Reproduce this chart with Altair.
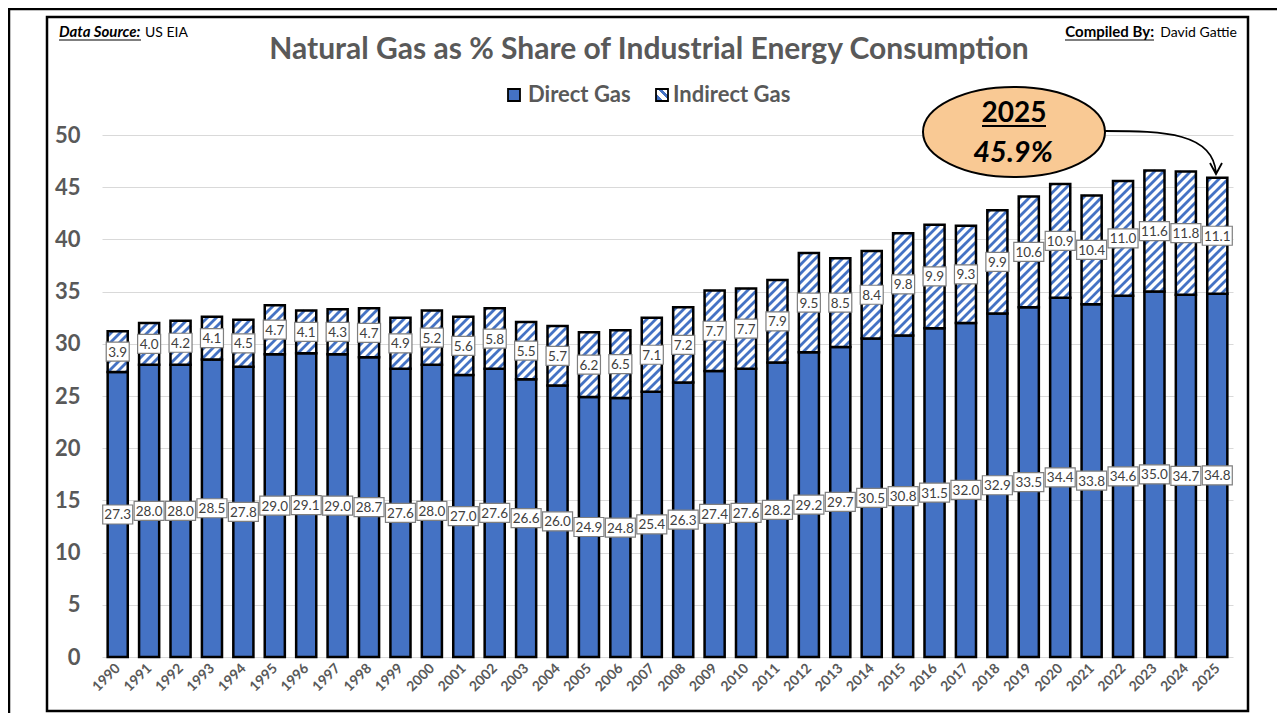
import altair as alt
import pandas as pd
import numpy as np

# ---------------- data ----------------
years = list(range(1990, 2026))
direct = [27.3, 28.0, 28.0, 28.5, 27.8, 29.0, 29.1, 29.0, 28.7, 27.6,
          28.0, 27.0, 27.6, 26.6, 26.0, 24.9, 24.8, 25.4, 26.3, 27.4,
          27.6, 28.2, 29.2, 29.7, 30.5, 30.8, 31.5, 32.0, 32.9, 33.5,
          34.4, 33.8, 34.6, 35.0, 34.7, 34.8]
indirect = [3.9, 4.0, 4.2, 4.1, 4.5, 4.7, 4.1, 4.3, 4.7, 4.9,
            5.2, 5.6, 5.8, 5.5, 5.7, 6.2, 6.5, 7.1, 7.2, 7.7,
            7.7, 7.9, 9.5, 8.5, 8.4, 9.8, 9.9, 9.3, 9.9, 10.6,
            10.9, 10.4, 11.0, 11.6, 11.8, 11.1]
y_ticks = [0, 5, 10, 15, 20, 25, 30, 35, 40, 45, 50]
series_names = ["Direct Gas", "Indirect Gas"]
title_text = "Natural Gas as % Share of Industrial Energy Consumption"
callout_year = str(years[-1])
callout_value = f"{direct[-1] + indirect[-1]:.1f}%"

# ---------------- geometry / style ----------------
PLOT_W, PLOT_H = 1131, 522
XDOM = [1989.5, 2025.5]
YDOM = [0, 50]
BAR_HALF = 0.32
BLUE = "#4472C4"
GRAY = "#595959"
FONT = "Lato"
STRIPE_P = 9.0
STRIPE_W = 2.8

KX = PLOT_W / (XDOM[1] - XDOM[0])
KY = PLOT_H / (YDOM[1] - YDOM[0])

df = pd.DataFrame({"year": years, "direct": direct, "indirect": indirect})
df["x0"] = df["year"] - BAR_HALF
df["x1"] = df["year"] + BAR_HALF
df["zero"] = 0.0
df["total"] = df["direct"] + df["indirect"]
df["dmid"] = df["direct"] / 2
df["imid"] = df["direct"] + df["indirect"] / 2
df["dlab"] = df["direct"].map(lambda v: f"{v:.1f}")
df["ilab"] = df["indirect"].map(lambda v: f"{v:.1f}")
df["dw"] = df["dlab"].map(lambda s: "s" if len(s) <= 3 else "l")
df["iw"] = df["ilab"].map(lambda s: "s" if len(s) <= 3 else "l")

# hatch stripes clipped to each indirect segment (pixel space -> data space)
rows = []
for yr, d, ind in zip(years, direct, indirect):
    x0 = (yr - BAR_HALF - XDOM[0]) * KX
    x1 = (yr + BAR_HALF - XDOM[0]) * KX
    yb = d * KY
    yt = (d + ind) * KY
    kmin = int(np.floor((yb - x1) / STRIPE_P)) - 1
    kmax = int(np.ceil((yt - x0) / STRIPE_P)) + 1
    for k in range(kmin, kmax + 1):
        c = k * STRIPE_P
        lo = max(x0, yb - c)
        hi = min(x1, yt - c)
        if hi - lo > 0.4:
            rows.append({"sx": lo / KX + XDOM[0], "sy": (lo + c) / KY,
                         "sx2": hi / KX + XDOM[0], "sy2": (hi + c) / KY})
stripes = pd.DataFrame(rows)

xscale = alt.Scale(domain=XDOM, nice=False, zero=False)
yscale = alt.Scale(domain=YDOM, nice=False, zero=False)
xaxis = alt.Axis(title=None, values=years, format="d", labelAngle=315,
                 labelAlign="right", labelBaseline="middle", labelPadding=9,
                 labelFont=FONT, labelFontSize=14, labelFontWeight="bold",
                 labelColor=GRAY, labelOverlap=False, labelFlush=False,
                 grid=False, domain=False, ticks=False)
yaxis = alt.Axis(title=None, values=y_ticks, labelFont=FONT, labelFontSize=22,
                 labelFontWeight="bold", labelColor=GRAY, labelPadding=22,
                 grid=True, gridColor="#d9d9d9", gridWidth=1,
                 domain=False, ticks=False)


def X(f):
    return alt.X(f, type="quantitative", scale=xscale, axis=xaxis)


def Y(f):
    return alt.Y(f, type="quantitative", scale=yscale, axis=yaxis)


base = alt.Chart(df)

direct_bars = base.mark_rect(color=BLUE, stroke="black", strokeWidth=2.5).encode(
    x=X("x0"), x2="x1", y=Y("zero"), y2="direct")
ind_fill = base.mark_rect(color="white").encode(
    x=X("x0"), x2="x1", y=Y("direct"), y2="total")
stripe_layer = alt.Chart(stripes).mark_rule(
    color=BLUE, strokeWidth=STRIPE_W, strokeCap="butt").encode(
    x=X("sx"), x2="sx2", y=Y("sy"), y2="sy2")
ind_outline = base.mark_rect(fillOpacity=0, stroke="black", strokeWidth=2.5).encode(
    x=X("x0"), x2="x1", y=Y("direct"), y2="total")

PATH_S = "M-11.5,-9.5H11.5V9.5H-11.5Z"
PATH_L = "M-15,-9.5H15V9.5H-15Z"
shape_scale = alt.Scale(domain=["s", "l"], range=[PATH_S, PATH_L])

dbox = base.mark_point(size=4, filled=True, fill="white", stroke="#7f7f7f",
                       strokeWidth=1.2, opacity=1).encode(
    x=X("year"), y=Y("dmid"), shape=alt.Shape("dw:N", scale=shape_scale, legend=None))
ibox = base.mark_point(size=4, filled=True, fill="white", stroke="#7f7f7f",
                       strokeWidth=1.2, opacity=1).encode(
    x=X("year"), y=Y("imid"), shape=alt.Shape("iw:N", scale=shape_scale, legend=None))
dtext = base.mark_text(font=FONT, fontSize=13.5, color="#404040", align="center",
                       baseline="middle", dy=1).encode(
    x=X("year"), y=Y("dmid"), text="dlab:N")
itext = base.mark_text(font=FONT, fontSize=13.5, color="#404040", align="center",
                       baseline="middle", dy=1).encode(
    x=X("year"), y=Y("imid"), text="ilab:N")

one = alt.Chart(pd.DataFrame({"a": [0]}))


def txt(s, x, y, size, weight="normal", style="normal", color="black", align="left"):
    return alt.Chart(pd.DataFrame({"t": [s]})).mark_text(
        font=FONT, fontSize=size, fontWeight=weight, fontStyle=style, color=color,
        align=align, baseline="alphabetic").encode(
        x=alt.value(x), y=alt.value(y), text="t:N")


def hline(x1, x2, y, w=1.2, color="black"):
    return one.mark_rule(color=color, strokeWidth=w).encode(
        x=alt.value(x1), x2=alt.value(x2), y=alt.value(y))


# frames
inner_frame = one.mark_rect(fillOpacity=0, stroke="black", strokeWidth=2.5).encode(
    x=alt.value(-55), x2=alt.value(1146), y=alt.value(-118), y2=alt.value(576))
outer_left = one.mark_rule(color="black", strokeWidth=2.5).encode(
    x=alt.value(-93), x2=alt.value(-93), y=alt.value(-126), y2=alt.value(600))
outer_top = hline(-94, 1175, -126, w=2.5)

# header texts
title = txt(title_text, 547, -76, 30, weight="bold", color=GRAY, align="center")
src1 = txt("Data Source:", -43, -98, 15, weight="bold", style="italic")
src1u = hline(-43, 39, -95)
src2 = txt("US EIA", 43, -98, 14)
cmp2 = txt("David Gattie", 1135, -98, 14, align="right")
cmp1 = txt("Compiled By:", 1052, -98, 15, weight="bold", align="right")
cmp1u = hline(963, 1052, -95)

# legend
sw1 = one.mark_rect(color=BLUE, stroke="black", strokeWidth=1.8).encode(
    x=alt.value(406), x2=alt.value(418), y=alt.value(-46), y2=alt.value(-34))
grad = alt.LinearGradient(
    gradient="linear", x1=0, y1=1, x2=1, y2=0,
    stops=[alt.GradientStop(color=BLUE, offset=0.0),
           alt.GradientStop(color=BLUE, offset=0.3),
           alt.GradientStop(color="white", offset=0.3),
           alt.GradientStop(color="white", offset=0.55),
           alt.GradientStop(color=BLUE, offset=0.55),
           alt.GradientStop(color=BLUE, offset=0.72),
           alt.GradientStop(color="white", offset=0.72),
           alt.GradientStop(color="white", offset=1.0)])
sw2 = one.mark_rect(fill=grad, stroke="black", strokeWidth=1.8).encode(
    x=alt.value(554), x2=alt.value(566), y=alt.value(-46), y2=alt.value(-34))
lg1 = txt(series_names[0], 426, -33, 22, weight="bold", color=GRAY)
lg2 = txt(series_names[1], 571, -33, 22, weight="bold", color=GRAY)

# callout
ELLIPSE = "M-91,0A91,45 0 1,0 91,0A91,45 0 1,0 -91,0Z"
ellipse = one.mark_point(shape=ELLIPSE, size=4, filled=True, fill="#F9C994",
                         stroke="black", strokeWidth=2, opacity=1).encode(
    x=alt.value(912), y=alt.value(-3))
ARROW = "M0,0C60,0 108,2 111,42M105,32L111,43L117,32"
arrow = one.mark_point(shape=ARROW, size=4, filled=False, stroke="black",
                       strokeWidth=1.8, opacity=1).encode(
    x=alt.value(1003), y=alt.value(-4))
cy = txt(callout_year, 912, -13, 28, weight="bold", align="center")
cyu = hline(880, 944, -9, w=2)
cv = txt(callout_value, 911, 27, 29, weight="bold", style="italic", align="center")

chart = alt.layer(
    direct_bars, ind_fill, stripe_layer, ind_outline,
    dbox, ibox, dtext, itext,
    inner_frame, outer_left, outer_top,
    title, src1, src1u, src2, cmp2, cmp1, cmp1u,
    sw1, sw2, lg1, lg2,
    ellipse, arrow, cy, cyu, cv,
).properties(
    width=PLOT_W, height=PLOT_H,
    padding={"left": 94, "top": 127, "right": 44, "bottom": 56},
    autosize=alt.AutoSizeParams(type="none"),
    background="white",
).configure_view(stroke=None)

chart.save("out.html", embed_options={"renderer": "svg", "actions": False})
